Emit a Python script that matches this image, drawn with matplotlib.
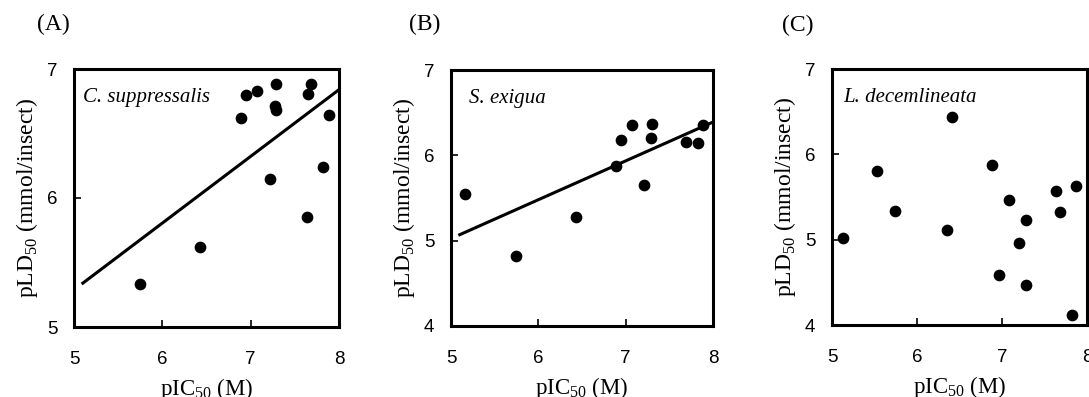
import numpy as np
import matplotlib.pyplot as plt

plt.rcParams['font.family'] = 'Liberation Sans'
plt.rcParams['mathtext.fontset'] = 'custom'
plt.rcParams['mathtext.rm'] = 'Liberation Serif'

# (A) C. suppressalis
a_x = [5.75, 6.43, 6.89, 6.95, 7.07, 7.29, 7.27, 7.29, 7.22, 7.68, 7.65, 7.89, 7.82, 7.64]
a_y = [5.33, 5.62, 6.62, 6.80, 6.83, 6.88, 6.71, 6.68, 6.15, 6.88, 6.81, 6.64, 6.24, 5.85]
a_fit_x = [5.10, 8.00]
a_fit_y = [5.34, 6.84]

# (B) S. exigua
b_x = [5.16, 5.74, 6.43, 6.89, 6.95, 7.07, 7.30, 7.29, 7.21, 7.69, 7.83, 7.89]
b_y = [5.55, 4.82, 5.28, 5.88, 6.18, 6.35, 6.37, 6.20, 5.65, 6.16, 6.14, 6.35]
b_fit_x = [5.10, 8.00]
b_fit_y = [5.07, 6.39]

# (C) L. decemlineata
c_x = [5.13, 5.53, 5.74, 6.35, 6.41, 6.88, 6.96, 7.08, 7.28, 7.20, 7.28, 7.63, 7.68, 7.87, 7.82]
c_y = [5.02, 5.80, 5.34, 5.11, 6.44, 5.88, 4.59, 5.46, 5.23, 4.96, 4.47, 5.57, 5.32, 5.63, 4.12]

species = ['C. suppressalis', 'S. exigua', 'L. decemlineata']
letters = ['(A)', '(B)', '(C)']
ylims = [(5, 7), (4, 7), (4, 7)]
yticks = [[5, 6, 7], [4, 5, 6, 7], [4, 5, 6, 7]]
xticks = [5, 6, 7, 8]

fig = plt.figure(figsize=(10.89, 3.97), dpi=100)

# axes boxes in pixels: left, right, top, bottom
boxes = [(74, 339, 69, 327), (451, 713, 70, 326), (832, 1087, 69, 325)]
letter_pos = [(53, 24), (425, 24), (798, 25)]
text_x = [0.034, 0.069, 0.043]

xs = [a_x, b_x, c_x]
ys = [a_y, b_y, c_y]
fits = [(a_fit_x, a_fit_y), (b_fit_x, b_fit_y), None]

W, H = 1089, 397
for i in range(3):
    l, r, t, b = boxes[i]
    ax = fig.add_axes([l / W, 1 - b / H, (r - l) / W, (b - t) / H])
    ax.scatter(xs[i], ys[i], s=55, color='black', zorder=3, clip_on=False)
    if fits[i] is not None:
        ax.plot(fits[i][0], fits[i][1], color='black', lw=2.2)
    ax.set_xlim(5, 8)
    ax.set_ylim(*ylims[i])
    ax.set_xticks(xticks)
    ax.set_yticks(yticks[i])
    ax.tick_params(direction='in', length=5, width=1.2, labelsize=13.5)
    ax.tick_params(axis='x', pad=17)
    ax.tick_params(axis='y', pad=12)
    for sp in ax.spines.values():
        sp.set_linewidth(2.2)
    ax.set_xlabel(r'pIC$_{\mathrm{50}}$ (M)', family='Liberation Serif', fontsize=16.5, labelpad=6)
    ax.set_ylabel(r'pLD$_{\mathrm{50}}$ (mmol/insect)', family='Liberation Serif', fontsize=17, labelpad=5)
    ax.text(text_x[i], 0.888, species[i], transform=ax.transAxes, family='Liberation Serif',
            style='italic', fontsize=15, va='center', ha='left')
    fig.text(letter_pos[i][0] / W, 1 - letter_pos[i][1] / H, letters[i], family='Liberation Serif',
             fontsize=17, ha='center', va='center')

fig.savefig('out.png', dpi=100)
